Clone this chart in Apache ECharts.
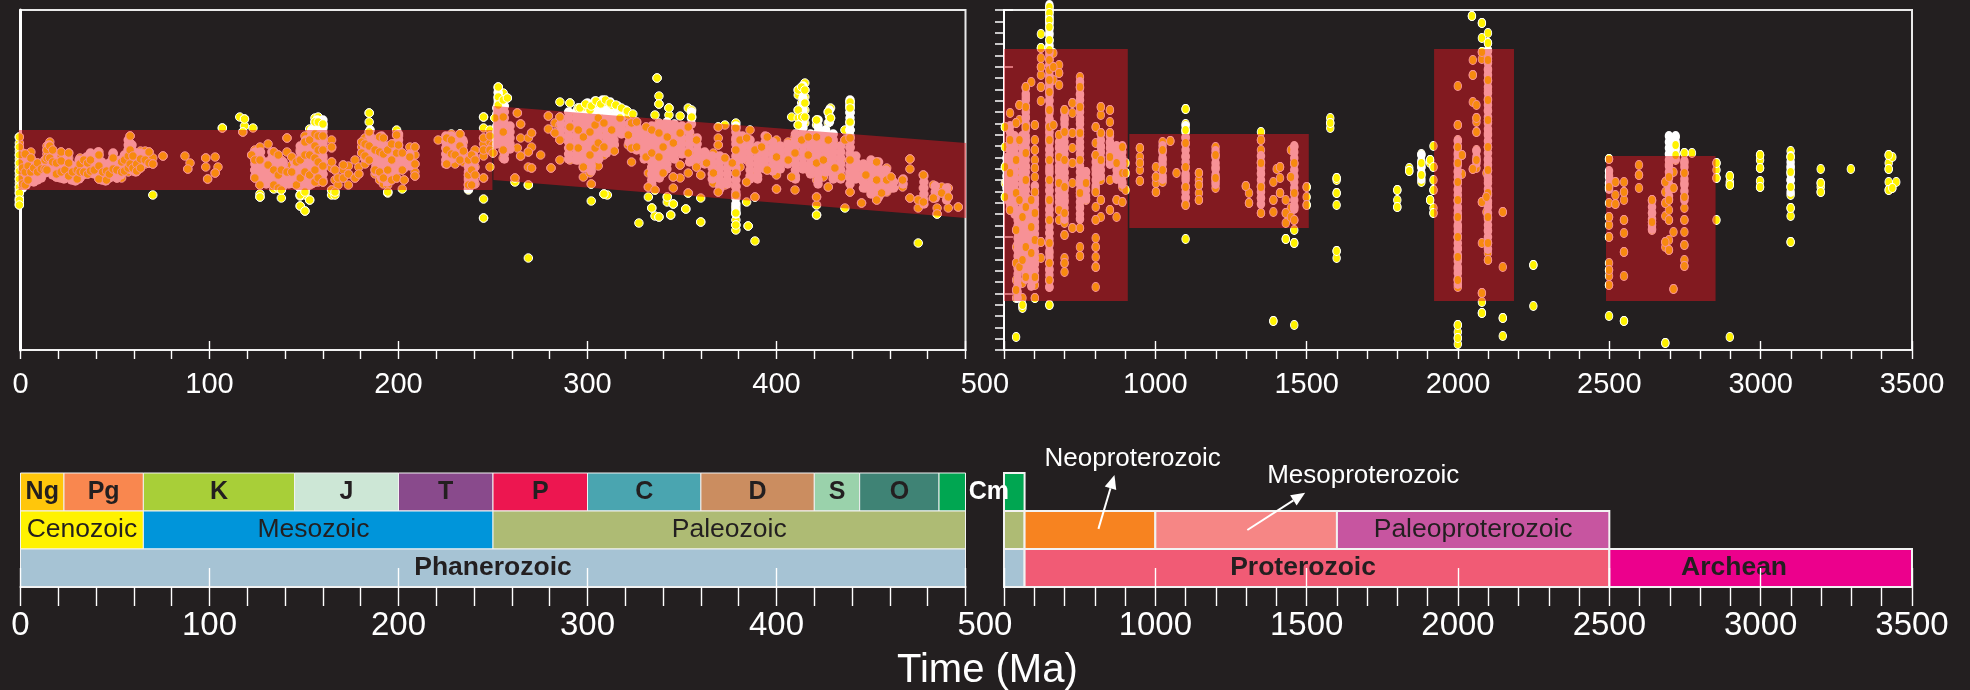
<!DOCTYPE html>
<html><head><meta charset="utf-8">
<style>html,body{margin:0;padding:0;background:#231F20}#c{width:1970px;height:690px}</style>
<script src="https://cdn.jsdelivr.net/npm/echarts@6/dist/echarts.min.js"></script>
</head><body><div id="c"></div>
<script>
// Each row: [age (Ma), value, value, ...]. Value axis is unlabelled in the source.
const youngSamples = [
[-0.6,213,207,203,199,195,191,187,183,179,175,171,167,163,160,157,152,150,147,145],
[1,190,182,174,166,162],[2.5,196,186,178,170,165],[4,192,184,176,170],[5.5,198,192,184,178],[7,188,182,176],[9,187,183,178],[11,186,181,177],[13,190,186,181],
[14,204,200,196,192,186,180],[15.5,208,204,198,192,186],[17,200,194,188,182],[19,187,182,176,173],[21.5,198,193,189,184,178],[23.5,186,180,175],[25.5,197,192,187,180,174],
[27.5,183,178,172],[30,180,175,171],[31.5,192,186,183,178,172],[33.5,190,183,178],[35.5,193,187,181,176],[37,196,190,185,179],[39,184,180],[41.5,198,195,190,184,178,171],
[43.5,185,178,171],[45.5,179,174,170],[47,182,176],[49,196,192,188,181,176],[51,180,172],[53.5,188,183,178,172],[55,190,184,179],[57,200,194,188,182,178],[58,214,207,200,193,186,181],
[59.5,194,188,182,179],[61.5,186,182,179],[63.5,199,191,185,182],[66,199,190,186],[68,198,193,187],[70,192,186,155],[75.4,194],[87,194],[88.5,181],[89.7,187],[98,192,183],[99,171],[103,193,177],[104.5,183],
[106.8,222],[116,233],[118.5,231,224],[117.6,218],[123,222],[122.3,195],[124,200,190,180,172],[126.7,203,190,175,165,156,153],[131,206,185,170],[134,198,190,180,172,165,161],[136.4,195,185,175,168,162],
[138,190,180,170,160,152],[141,212,198,178,170],[143.5,193,185,178,170],[146,188,175,165],[148,200,190,180,172,162,155,154,144],[150.5,214,208,200,195,185,178,168,158,155,139],[153,221,210,204,195,185,175,165,150],
[155.8,232,228,224,216,210,204,198,192,186,180,174,168],[157.5,233,228,222,214,207,200,195,188,180,172,168],[160,226,222,214,208,200,192,184,176,168],[164.6,210,203,202,188,182,160,155],[166.4,180,170,158,155],[168,172,165],
[170.8,185,180,172],[173.5,184,176,165],[177,172,190],[179,176,183],[180.5,197,203,208],[182.3,212,206,200,194,186],[184.5,237,228,218,212,204,194,190],[187.6,210,200,190,180,176],[190,213,205,198,188,178,170],
[192,212,204,196,186,172,166],[194.3,200,190,180,165,158,157],[196.4,206,198,190,180,170],[199,220,215,208,197,188,172],[200,214,205,190],[202,197,189,180,161],[203,170],[206,203,193,185],[208.7,203,195,186,178,174],
[221,210],[225.5,212,206,200,192,186],[228,216,210,203,196],[230,206,195,186],[232.5,216,210,204,197,190],[234.3,208,199,188],[237,190,183,175,170,165,160],[238.7,195,188,180,172,165],[240.5,200,190,183,175,166],
[245,233,222,212,206,200,194,172,151,132],[248.4,220,214,208,200,183],[250,197,205]
];
const paleozoicSamples = [
[251,232,213],[252.8,263,258,253,250,245],[255.4,257,250,240,233,225,218,210,200,192],[257.6,252,220],[261.6,172,168],[262.9,237,202],[264.6,226,212,194],[268.7,212,198,183,165,92],[270.4,217,203,182],
[275.2,195],[279.3,234,221],[280.7,182],[282.8,227,217],[285.4,248,233,225,210,190],[290.7,247,235,223,213,203,190],[295.1,242,232,220,210,202,190],[297.8,243,227,213,203,183,173],[301.3,240,230,218,207,195,177],
[302,166,149],[304,247,237,225,213,202,190],[305.7,232,220,207,184],[308.7,248,238,227,215,203,195,156],[310.5,155],[312.8,245,233,220],[314.2,205,199],[317.2,241,232,222],[321.6,235,225,215,205],[323.3,227,213,202,188],
[326,228,217,203],[327.2,127],[331,223,207,193],[332.2,177,163,153],[334,220,210,197,183,142],[335.7,235,160,134],[336.8,272],[337.8,254,246,227,217,207,193,180,133],[340,220,203,190,177],[342.2,227,213,200,153,148],
[343.1,242,235],[344,135],[345.4,220,207,193,173,162,146],[349,234,217,202,185,172],[352,141],[353.3,242,223,210,197,177,157],[355.1,240,233,213],[357.7,210,197,183],[359.9,190,175,152,128],[363,195,187],
[366.6,197,177,167],[369.2,223,212,205,183,158],[372.7,225,192,165],[376.6,187],[378.5,227,222,210,200,190,177,163,155,143,137,130,125,120],[380.7,210,183],[384.2,212,190,168,148],[385,124],[386,220],[388.6,200,177,153,109],
[392.1,203,185],[395.1,213,200,180],[400,210,193,175,161],[406.2,208,190],[408,233,173],[409.8,213,197,160],[411.5,260,255,240,232,225,215],[413.3,263,247,233,223,210],[415,267,260,253,247,240,233,227],[416.8,213,203,195,180],
[421.2,230,225,213,200,187,170,153,145,135],[424.8,203,190,173],[427.4,238,227,210,190,163],[428.6,242,232],[430.9,205,182],[434.4,190,173],[436.2,220,210,142],[438.9,248,245,242,237,228,220,212,203,190,177,158],[443.3,185],[445,147],
[447.3,183,175,162],[453,188,180,170,162,150],[455.6,170,157],[458.3,182,170,158],[460.6,173,162],[466.7,170,163],[470.6,191,181,152],[475,107,150,142],[477.7,175,162,148],[483,165,152],[485,142,136],[487.4,163,157],[490.9,162,153,142],[496.2,143]
];
const ridgeSamples = [[296,242],[299,246],[302,244],[304.5,249],[307,246],[309.5,250],[312,247],[315,245],[318,242],[321,239],[324,236]];
const olderSamples = [
[503,223,203,183,167,153],[520,237,210,195,177,153,140],[540,13,227,207,190,173,157,137,120,103,87,70,60,52],[551,245,230,210,183,150,117,83],[561,42,45,52,133,110,90,67],
[572,263,253,243,233,223,210,197,183,170,160,143,123,103,83,73],[590,268,150,137,123,110,97,83],[602,225,210,200,190,182,173,158,150,137,123,110,87,73,65,52],[622,316,302,292,283,275,263,249,108,92],
[650,343,340,337,333,330,327,323,317,310,305,300,295,290,285,280,275,270,265,258,250,240,230,223,217,210,200,190,180,170,160,150,140,130,117,107,97,87,80,70,63,45],
[663,297,283,270,225],[682,285,277,265,215,203,193,180,167,153,140,130],[700,240,230,218,203,190,177,163,150,137,127,115,92,87,78],[726,247,237,217,202,187,167,122],[751,273,263,255,243,230,217,203,190,170,157,143,122,103,94],
[771,178,167,150],[803,223,207,195,180,158,143,130,112,103,93,83,63],[820,243,235,217,203,190,170,150,133],[850,240,228,217,207,193,170,140],[872,203,187,173,150,133],[891,203,190,177,163,148],[902,187,177,160],
[949,202,193,187,180,169],[1002,183,173,167,158],[1024,208,200,190,180,168],[1049.6,209],[1070,177],[1100,241,226,220,213,207,193,183,173,163,153,145,111],[1144,177,170,165,157,150],[1199,203,195,183,172,162],
[1299,164],[1309.5,157,147],[1349,218,210,200,187,177,163,152,137],[1390,168,150,138,29],[1401,181],[1412,183,172,157],[1431,150,137,127,111],[1448,200,173,142,133],[1459,203,187,173,157,143,130,120,107,25],
[1500,163,153,145],[1578,232,227,222],[1599,172,170,157,145,99,92],[1799.5,160,150,143],[1839,182,179],[1879,196,187,183,175,168],[1908,190,187,150],[1919,204,183,170,160,142,137],
[1999.4,264,225,210,203,195,187,178,168,160,150,142,133,123,113,102,93,81,70,63,25,18,12,6],[2013,195,176],[2046,334],[2049,290,275,248,181],[2061,245,232,228,218,200,190,182],[2079,327,312,298,291,148,107,57,48,37],
[2099,317,307,300,290,280,270,260,250,240,230,217,203,190,180,170,157,147,133,120,107,97,90],[2094,177,153,138],[2148,138,83,32,14],[2249,85,44],
[2499,191,175,163,147,133,125,113,87,80,74,65,34],[2520,168,155,146],[2548.4,168,158,150,130,117,98,74,29],[2598,185,175,162],[2641,150,137,128,120],[2685,168,158,147,134,108,103,7],[2697,186,173,163,150,140,130,110,100],
[2712,178,162,118,61],[2719,213,205,200,195,190],[2748,197,187,177,167,153,142,130,118,105,90,84],[2773,197],[2854,187,180,172,130],[2898,174,168,165,13],[2998,195,190,182,169,163],[3099,199,193,184,178,170,163,155,142,134,108],
[3198.4,181,167,163,158],[3298,181],[3423,195,187,181,168,160],[3435,193,162],[3448,168]
];
// Places where the source markers overlap until only their white outlines show.
const youngOverlap = [
[1,197,192,187,182,177,172,167,162],[3,195,190,185,180,175,170,165],[5,190,185,180,175,170],[7,183,178,173,168],[9,184,179,174,170],[11,186,181,176,172],[13,190,185,180,177],[15,205,200,195,190,185,180],
[17,195,190,185,180,175],[19,188,183,178,173],[21,187,182,177,172],[23,190,185,180,175,171],[25,195,190,185,180,175],[27,185,180,175,170],[29,183,178,173,169],[31,190,185,180,175,171],[33,190,185,180,175],
[35,193,188,183,178],[37,197,192,187,182,177],[39,190,185,180,176],[41,198,193,188,183,178],[43,188,183,178,173,170],[45,182,177,172,169],[47,187,182,177,172],[49,197,192,187,182,177],[51,185,180,175,172],
[53,190,185,180,175],[55,195,190,185,182],[57,210,205,200,195,190,185],[59,205,200,195,190,185,180],[61,197,192,187,182,178],[63,197,192,187,183],[65,196,191,187],
[124,198,192,186,180,174],[127,198,192,186,180,174,168],[130,188,182,176,170,166],[133,198,192,186,180,174,168],[136,194,188,182,176,170,164],[139,188,182,176,170,164],[142,176,170,166],[145,188,182,176,170,166],
[148,204,198,192,186,180,174,168,162],[151,210,204,198,192,186,180,174,168,162],[154,220,214,208,202,196,190,184,178,172,166],[157,230,224,218,212,206,200,194,188,182,176,170],[160,230,224,218,212,206,200,194,188,182,176,170],
[182,204,198,192],[185,220,214,208,202,196],[188,208,202,196,190,184,178],[191,214,208,202,196,190,184,178,172],[194,204,198,192,186,180,174,168],[197,206,200,194,188,182,176],[200,216,210,204,198,192,186,180],[203,194,188,182],[206,196,190,184],
[225,214,208,202,196,190,186],[228,214,208,202,196,191],[231,210,204,198,192],[234,210,204,198,193],[237,184,178,172,166,161],[240,194,188,182,176,170,166],
[252,242,236,230,224,218,212,206],[252.8,262,257,252,247],[256,244,238,232,226,220,214,208,202,196,191],[259,224,218,212,206,201],
[286,232,226,220,214],[290,238,232,226,220,214,208,202,196,191],[294,238,232,226,220,214,208,202,196,190],[298,236,230,224,218,212,206,200,194,188,182],[300,247,241],[302,238,232,226,220,214,208,202,196,190,184,179],[304,249,243],[306,238,232,226,220,214,208,202,196,191],[308,250,244],
[310,238,232,226,220,214,208,202,197],[312,248,242],[314,234,228,222,216,210,206],[316,244,238],[318,232,226,220,216],[320,240,236],[322,226,220,214,208],[326,224,218,212,206,200],[330,220,214,208,202,196,191],
[334,224,218,212,206,200,194,188,182,176,170,166],[338,226,220,214,208,202,196,190,184,178,172],[342,228,222,216,210,204,198,192,186,181],[346,226,220,214,208,202,196,191],[350,224,218,212,206,200,196],[354,218,212,206,200,194,188],
[355,238,232,226],[358,212,206,200,194,191],[362,198,192,186],[366,194,188,182,176,171],[370,194,188,182,176,170,164,161],[374,188,182,176,170,166],
[378.5,224,218,212,206,200,194,188,182,176,170,164,158,152,146,140,136],[382,214,208,202,196,191],[386,210,204,198,192,186,180,174,171],[390,204,198,192,186,180,174,171],[394,214,208,202,196,190,184,181],[398,208,202,196,190,184,179],
[402,204,198,192,186,181],[406,206,200,194,188,186],[410,216,210,204,198,192,186,180,174,171],[414,264,258,252,246,240,234,228,222,216,210,204,198,192,186,181],[418,216,210,204,198,192,186,180,176],[422,230,224,218,212,206,200,194,188,182,176,170,166],
[426,220,214,208,202,196,190,184,178],[428,240,234,228],[430,216,210,204,198,192,186,180,174,171],[434,204,198,192,186,180,174,171],[438.9,250,244,238,232,226,220,214,208,202,196,190,184,178,172,166],[442,194,188,182,176,171],
[446,186,180,174,168,162],[450,190,184,178,172,166,160,156],[454,188,182,176,170,164,158,153],[458,180,174,168,162,159],[462,168,162],[467,171,166],[478,174,168,162,156,150,146],[484,164,158,152],[490,162,156,150]
];
const olderOverlap = [
[508,192,186,180,174,168,162,156,151],[520,224,218,212,206,200,194,188,182,176,170,164,158,152,146,141],[535,214,208,202,196,190,184,178,172,166,160,154,148,142,136],
[545,136,130,124,118,112,106,100,94,88,82,76,70,64,58,52],[560,214,208,202,196,190,184,178,172,166,160,154,148,142,136,130,124,118,112,106,100,94,88,82],
[572,262,256,250,244,238,232,226,220,214,208,202,196,190,184,178,172,166,160,154,148,142,136,130,124,118,112,106,100,94,88,82,76,71],[590,142,136,130,124,118,112,106,100,94,88,82,76,70,64],[602,164,158,152,146,140,134,128,122,116,110,104,98,92,86,80,74,71],
[650,345,339,333,327,321,315,309,303,297,291,285,279,273,267,261,255,249,243,237,231,225,219,213,207,201,195,189,183,177,171,165,159,153,147,141,135,129,123,117,111,105,99,93,87,81,75,69,63],
[682,208,202,196,190,184,178,172,166,160,154,148,142],[700,238,232,226,220,214,208,202,196,190,184,178,172,166,160,154,148,142,136,131],[751,268,262,256,250,244,238,232,226,220,214,208,202,196,190,184,178,172,166,160,154,148,142,136,131],
[771,178,172,166,160,154,151],[803,194,188,182,176,170,164,161],[820,216,210,204,198,192,186,180,174],[850,214,208,202,196,190,186],[872,204,198,192,186,180,174,171],[891,204,198,192,186,180,174,168,166],
[1024,204,198,192,186,180,174,171],[1100,224,218,212,206,200,194,188,182,176,170,164,158,152,146],[1199,199,193,187,181,175,169,166],[1349,194,188,182,176,170,164,158,152,146],[1459,204,198,192,186,180,174,168,162,156,150,144,141],
[1879,195,189,183,177,171],[1999.4,209,203,197,191,185,179,173,167,161,155,149,143,137,131,125,119,113,107,101,95,89,83,77,71,66],[2061,199,193,187],
[2099,299,293,287,281,275,269,263,257,251,245,239,233,227,221,215,209,203,197,191,185,179,173,167,161,155,149,143,137,131,125,119,113,107,101],
[2499,179,173,167,161],[2641,149,143,137,131,125,121],[2697,214,208,202,196,190,184,178,172,166,160,154,151],[2719,214,208,202,196,191],[2748,189,183,177,171,165,159,153,150],[3099,194,188,182,176,170,164,158]
];
// Range bands: lists of [age, value] corners
const bandsYoung = [[[-1,220],[249.7,220],[249.7,160],[-1,160]],[[250.2,244],[500.3,207],[500.3,132],[250.2,170]]];
const bandsOlder = [[[500,301],[909,301],[909,49],[500,49]],[[914,216],[1507,216],[1507,122],[914,122]],[[1921,301],[2185,301],[2185,49],[1921,49]],[[2489,194],[2851,194],[2851,49],[2489,49]]];
// Timescale: [name, start, end, row, fill, bold, labelAge]
const phanerozoicCells = [
['Ng',0,23,0,'#FFC60B',1],['Pg',23,65,0,'#F9874F',1],['K',65,145,0,'#A8CF38',1],['J',145,200,0,'#CDE7D6',1],['T',200,250,0,'#894A8C',1],['P',250,300,0,'#ED1650',1],
['C',300,360,0,'#4AA5B0',1],['D',360,420,0,'#CB8D60',1],['S',420,444,0,'#9AD2AB',1],['O',444,486,0,'#3F8375',1],['',486,500,0,'#00A651',0],
['Cenozoic',0,65,1,'#FFF200',0],['Mesozoic',65,250,1,'#0095DA',0,155],['Paleozoic',250,500,1,'#AEBB74',0],['Phanerozoic',0,500,2,'#A6C3D4',1]
];
const precambrianCells = [
['',500,568,0,'#00A651',0],['',500,568,1,'#AEBB74',0],['',500,568,2,'#A6C3D4',0],
['',568,1000,1,'#F78320',0],['',1000,1600,1,'#F68685',0],['Paleoproterozoic',1600,2500,1,'#C755A0',0],
['Proterozoic',568,2500,2,'#F15B75',1,1488],['Archean',2500,3500,2,'#EC008C',1,2912]
];
const floatingLabels = [['Neoproterozoic',925,-0.37,400],['Mesoproterozoic',1687,0.08,400],['Cm',450,0.5,700]];
const arrows = [[812,1.47,865,0.05],[1304,1.5,1495,0.52]];
const sharedTickAge = 437, sharedTickLabel = '500';

const FONT = '"Liberation Sans", Arial, sans-serif';
const BG = '#231F20', LINE = '#F1F1F1';
const flat = rows => rows.flatMap(r => r.slice(1).map(v => [r[0], v]));
const everySecond = pts => pts.filter((p,i)=>i%2===0);

const grids = [
  {left:20.5, top:10, width:945, height:340, show:true, borderColor:'#E9E9E9', borderWidth:2, backgroundColor:'transparent'},
  {left:1004, top:10, width:908, height:340, show:true, borderColor:'#E9E9E9', borderWidth:2, backgroundColor:'transparent'},
  {left:20.5, top:473, width:945, height:114},
  {left:1004, top:473, width:908, height:114}
];
function xPair(grid, min, max, major, minor, tickUp, margin, z, fontSize, hide){
  const base = {gridIndex:grid, type:'value', min, max, z, position:'bottom', splitLine:{show:false}};
  return [
    {...base, interval:major, axisLine:{show:true,onZero:false,lineStyle:{color:LINE,width:2}},
     axisTick:{show:true,inside:true,length:tickUp,lineStyle:{color:'#fff',width:1.4}},
     axisLabel:{show:true,margin,color:'#fff',fontFamily:FONT,fontSize,showMinLabel:true,showMaxLabel:true,hideOverlap:false,
       formatter:v=>v===hide?'':String(v)}},
    {...base, interval:minor, axisLine:{show:false,onZero:false},
     axisTick:{show:true,inside:false,length:tickUp>9?19:9,lineStyle:{color:'#fff',width:1.4}},
     axisLabel:{show:false}}
  ];
}
const xAxis = [
  ...xPair(0,0,500,100,20,9,20,1,29,500),
  ...xPair(1,500,3500,500,100,9,20,1,29,500),
  ...xPair(2,0,500,100,20,19,22,6,33,500),
  ...xPair(3,500,3500,500,100,19,22,6,33,500)
];
const yBase = {type:'value',min:0,max:340,position:'left',splitLine:{show:false},axisLabel:{show:false}};
const yAxis = [
  {...yBase,gridIndex:0,axisLine:{show:true,onZero:false,lineStyle:{color:'#fff',width:3}},axisTick:{show:false}},
  {...yBase,gridIndex:1,interval:340/30,axisLine:{show:true,onZero:false,lineStyle:{color:'#fff',width:2}},axisTick:{show:true,length:9,lineStyle:{color:'#fff',width:1.5}}},
  {...yBase,gridIndex:1,interval:340/6,axisLine:{show:false,onZero:false},axisTick:{show:true,inside:true,length:9,lineStyle:{color:'#fff',width:1.5}}},
  {gridIndex:2,type:'value',min:0,max:3,inverse:true,show:false},
  {gridIndex:3,type:'value',min:0,max:3,inverse:true,show:false}
];
const dots = (name,data,xi,yi,size,color,z) => ({type:'scatter',name,xAxisIndex:xi,yAxisIndex:yi,data,symbol:'circle',symbolSize:size,clip:false,z,silent:true,
  itemStyle:{color,borderColor:'#fff',borderWidth:color==='#FFF'?0:1,opacity:1}});
const bandSeries = (bands,xi,yi) => ({type:'custom',xAxisIndex:xi,yAxisIndex:yi,z:3,clip:false,silent:true,
  data:bands.map((b,i)=>[i]),
  renderItem:(p,api)=>({type:'polygon',shape:{points:bands[p.dataIndex].map(c=>api.coord(c))},style:{fill:'rgba(237,22,32,0.47)'}})});
const cellSeries = (cells,xi,yi,lw) => ({type:'custom',xAxisIndex:xi,yAxisIndex:yi,z:3,clip:false,silent:true,
  data:cells.map((c,i)=>[i]),
  renderItem:(p,api)=>{
    const [name,s,e,row,fill,bold,labelAt]=cells[p.dataIndex];
    const a=api.coord([s,row]), b=api.coord([e,row+1]);
    const mid=api.coord([labelAt===undefined?(s+e)/2:labelAt,row+0.5]);
    return {type:'group',children:[
      {type:'rect',shape:{x:a[0],y:a[1],width:b[0]-a[0],height:b[1]-a[1]},style:{fill,stroke:'#F2F2F2',lineWidth:lw}},
      {type:'text',z2:5,style:{text:name,x:mid[0],y:mid[1],align:'center',verticalAlign:'middle',fill:BG,
        font:(bold?'bold ':'')+(row===0?'25px ':'26.5px ')+FONT}}
    ]};
  }});
const floatSeries = {type:'custom',xAxisIndex:6,yAxisIndex:4,z:8,clip:false,silent:true,
  data:floatingLabels.map((c,i)=>[i]),
  renderItem:(p,api)=>{const [t,x,y,w]=floatingLabels[p.dataIndex];const c=api.coord([x,y]);
    return {type:'text',style:{text:t,x:c[0],y:c[1],align:'center',verticalAlign:'middle',fill:'#fff',font:(w>400?'bold 25px ':'26px ')+FONT}};}};
const sharedTick = (xi,yi,row,size) => ({type:'custom',xAxisIndex:xi,yAxisIndex:yi,z:8,clip:false,silent:true,data:[[0]],
  renderItem:(p,api)=>{const c=api.coord([sharedTickAge,row]);
    return {type:'text',style:{text:sharedTickLabel,x:c[0],y:c[1],align:'center',verticalAlign:'middle',fill:'#fff',font:size+'px '+FONT}};}});
const arrowSeries = {type:'custom',xAxisIndex:6,yAxisIndex:4,z:8,clip:false,silent:true,
  data:arrows.map((c,i)=>[i]),
  renderItem:(p,api)=>{const a=arrows[p.dataIndex];const f=api.coord([a[0],a[1]]),t=api.coord([a[2],a[3]]);
    const L=Math.hypot(t[0]-f[0],t[1]-f[1]),ux=(t[0]-f[0])/L,uy=(t[1]-f[1])/L,hl=14,hw=6;
    const bx=t[0]-ux*hl,by=t[1]-uy*hl;
    return {type:'group',children:[
      {type:'line',shape:{x1:f[0],y1:f[1],x2:bx,y2:by},style:{stroke:'#fff',lineWidth:2}},
      {type:'polygon',shape:{points:[t,[bx-uy*hw,by+ux*hw],[bx+uy*hw,by-ux*hw]]},style:{fill:'#fff'}}
    ]};
  }};
const youngAll = flat(youngSamples).concat(flat(paleozoicSamples));
const olderAll = flat(olderSamples);
const option = {
  animation:false, backgroundColor:BG, textStyle:{fontFamily:FONT},
  grid:grids, xAxis, yAxis,
  graphic:[{type:'text',left:897,top:651,style:{text:'Time (Ma)',fill:'#fff',font:'40px '+FONT}}],
  series:[
    dots('Phanerozoic samples',youngAll,0,0,8.5,'#FFF200',2),
    dots('Older samples',olderAll,2,1,[7.5,9],'#FFF200',2),
    dots('Phanerozoic overlap',flat(youngOverlap),0,0,9.5,'#FFF',2.1),
    dots('Older overlap',flat(olderOverlap),2,1,[8.5,10],'#FFF',2.1),
    dots('Phanerozoic front',everySecond(youngAll).concat(flat(ridgeSamples)),0,0,8.5,'#FFF200',2.2),
    dots('Older front',everySecond(olderAll),2,1,[7.5,9],'#FFF200',2.2),
    bandSeries(bandsYoung,0,0),
    bandSeries(bandsOlder,2,1),
    cellSeries(phanerozoicCells,4,3,1),
    cellSeries(precambrianCells,6,4,2),
    floatSeries, arrowSeries,
    sharedTick(2,1,-34.5,29), sharedTick(6,4,4.03,33)
  ]
};
echarts.init(document.getElementById('c'),null,{renderer:'canvas'}).setOption(option);
</script></body></html>
